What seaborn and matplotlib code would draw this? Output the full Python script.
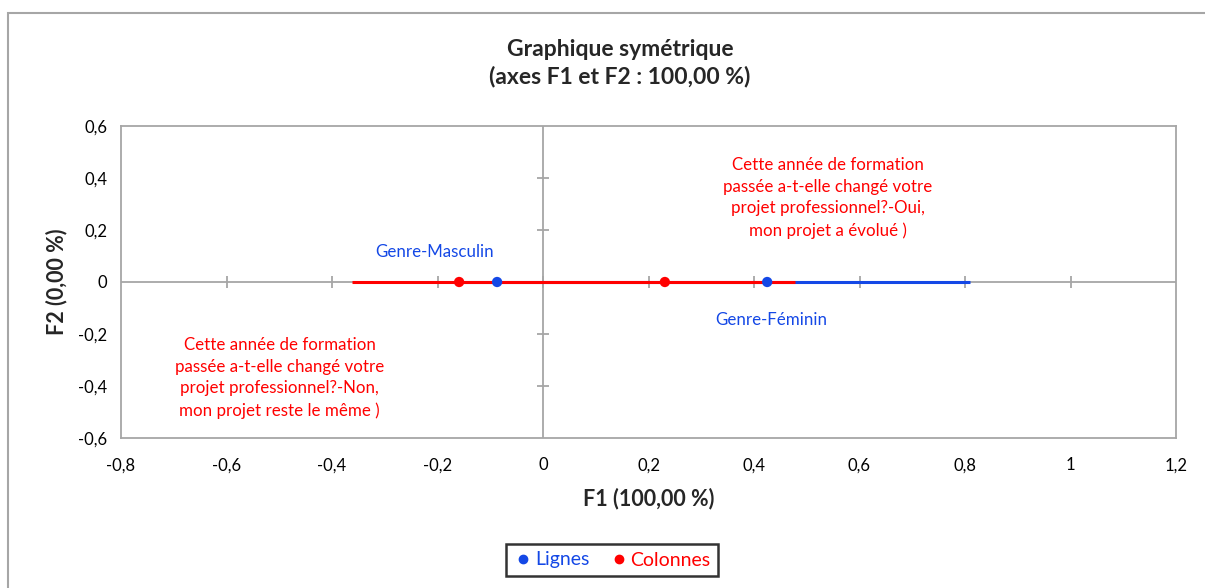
import matplotlib
matplotlib.use("Agg")
import matplotlib.pyplot as plt
import matplotlib.patches as patches
import seaborn as sns
import pandas as pd

# coordonnees des modalites (F1, F2)
row_labels = ["Genre-Masculin", "Genre-Féminin"]
row_f1 = [-0.087, 0.425]
row_f2 = [0.0, 0.0]

col_labels = [
    "Cette année de formation\npassée a-t-elle changé votre\nprojet professionnel?-Non,\nmon projet reste le même )",
    "Cette année de formation\npassée a-t-elle changé votre\nprojet professionnel?-Oui,\nmon projet a évolué )",
]
col_f1 = [-0.159, 0.231]
col_f2 = [0.0, 0.0]

# positions des etiquettes
row_lab_x = [-0.205, 0.432]
row_lab_y = [0.115, -0.146]
col_lab_x = [-0.499, 0.540]
col_lab_y = [-0.369, 0.323]

# etendue des segments
row_seg = [-0.17, 0.809]
col_seg = [-0.362, 0.478]

x_ticks = [-0.8, -0.6, -0.4, -0.2, 0, 0.2, 0.4, 0.6, 0.8, 1, 1.2]
y_ticks = [-0.6, -0.4, -0.2, 0, 0.2, 0.4, 0.6]

BLUE = "#1448E6"
RED = "#FF0000"
GRAY = "#A6A6A6"

sns.set_style("white")
plt.rcParams["font.family"] = ["Lato", "DejaVu Sans"]

df = pd.DataFrame({
    "F1": row_f1 + col_f1,
    "F2": row_f2 + col_f2,
    "type": ["Lignes"] * len(row_f1) + ["Colonnes"] * len(col_f1),
})

fig = plt.figure(figsize=(12.05, 5.88), dpi=100)
ax = fig.add_axes([121 / 1205, 1 - 438 / 588, (1176 - 121) / 1205, (438 - 126) / 588])

# cadre exterieur
fig.patches.append(patches.Rectangle((8 / 1205, -0.1), 1.2, 1 - 13 / 588 + 0.1,
                                     transform=fig.transFigure, fill=False,
                                     edgecolor=GRAY, linewidth=1.5, zorder=0))

ax.set_xlim(x_ticks[0], x_ticks[-1])
ax.set_ylim(y_ticks[0], y_ticks[-1])

# axes au centre
ax.axhline(0, color=GRAY, lw=1.3, zorder=1)
ax.axvline(0, color=GRAY, lw=1.3, zorder=1)
ax.plot(x_ticks[1:-1], [0] * (len(x_ticks) - 2), ls="none", marker="|",
        color=GRAY, markersize=9, mew=1.3, zorder=1)
ax.plot([0] * (len(y_ticks) - 2), y_ticks[1:-1], ls="none", marker="_",
        color=GRAY, markersize=9, mew=1.3, zorder=1)

ax.hlines(0, row_seg[0], row_seg[1], color=BLUE, lw=2.2, zorder=2)
ax.hlines(0, col_seg[0], col_seg[1], color=RED, lw=2.2, zorder=3)

sns.scatterplot(data=df, x="F1", y="F2", hue="type",
                palette={"Lignes": BLUE, "Colonnes": RED},
                s=55, edgecolor="none", ax=ax, zorder=4, legend=False)

for lab, x, y in zip(row_labels, row_lab_x, row_lab_y):
    ax.text(x, y, lab, color=BLUE, fontsize=12.2, ha="center", va="center")
for lab, x, y in zip(col_labels, col_lab_x, col_lab_y):
    ax.text(x, y, lab, color=RED, fontsize=12.2, ha="center", va="center",
            linespacing=1.42)

ax.set_xticks(x_ticks)
ax.set_yticks(y_ticks)
ax.set_xticklabels([f"{t:g}".replace(".", ",") for t in x_ticks])
ax.set_yticklabels([f"{t:g}".replace(".", ",") for t in y_ticks])
ax.tick_params(length=0, labelsize=12, colors="black", pad=10)
ax.tick_params(axis="x", pad=14)

for s in ax.spines.values():
    s.set_color(GRAY)
    s.set_linewidth(1.3)

ax.set_xlabel("F1 (100,00 %)", fontsize=15.5, fontweight="bold", labelpad=10)
ax.set_ylabel("F2 (0,00 %)", fontsize=15.5, fontweight="bold", labelpad=8)

fig.text(620 / 1205, 1 - 63 / 588, "Graphique symétrique\n(axes F1 et F2 : 100,00 %)",
         ha="center", va="center", fontsize=16.5, fontweight="bold", linespacing=1.3)

# legende
leg_handles = [plt.Line2D([], [], ls="none", marker="o", color=BLUE, markersize=6),
               plt.Line2D([], [], ls="none", marker="o", color=RED, markersize=6)]
leg = fig.legend(leg_handles, ["Lignes", "Colonnes"], loc="center",
                 bbox_to_anchor=(612 / 1205, 1 - 560 / 588), ncol=2,
                 frameon=True, fontsize=14, handletextpad=0.1,
                 columnspacing=1.0, handlelength=1.0, borderpad=0.4,
                 fancybox=False)
leg.get_frame().set_edgecolor("black")
leg.get_frame().set_linewidth(1.8)
for txt, c in zip(leg.get_texts(), [BLUE, RED]):
    txt.set_color(c)

fig.savefig("out.png", dpi=100)
